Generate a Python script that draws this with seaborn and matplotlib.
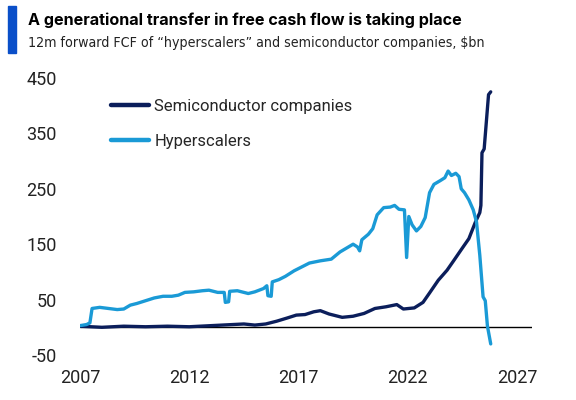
import pandas as pd
import matplotlib.pyplot as plt
import seaborn as sns
from matplotlib.patches import Rectangle

# Data (decimal year, $bn)
hyper_years = [2007.0, 2007.3, 2007.45, 2007.55, 2007.9, 2008.3, 2008.7, 2009.0, 2009.3, 2009.6,
               2010.0, 2010.4, 2010.8, 2011.2, 2011.5, 2011.8, 2012.2, 2012.6, 2012.9, 2013.3,
               2013.6, 2013.65, 2013.8, 2013.85, 2014.2, 2014.7, 2015.0, 2015.4, 2015.55, 2015.6,
               2015.75, 2015.8, 2016.1, 2016.4, 2016.8, 2017.1, 2017.5, 2018.0, 2018.5, 2018.9,
               2019.2, 2019.5, 2019.7, 2019.8, 2019.9, 2020.2, 2020.4, 2020.6, 2020.9, 2021.2,
               2021.4, 2021.6, 2021.85, 2021.95, 2022.05, 2022.2, 2022.4, 2022.6, 2022.8, 2023.0,
               2023.2, 2023.5, 2023.7, 2023.85, 2024.0, 2024.2, 2024.35, 2024.45, 2024.6, 2024.8,
               2025.0, 2025.15, 2025.3, 2025.45, 2025.55, 2025.65, 2025.8]
hyper_fcf = [3, 5, 8, 34, 36, 34, 32, 33, 40, 43,
             48, 53, 56, 56, 58, 63, 64, 66, 67, 63,
             63, 45, 46, 65, 66, 61, 64, 70, 75, 57,
             56, 82, 86, 92, 102, 108, 116, 120, 123, 136,
             143, 150, 145, 138, 158, 168, 178, 203, 216, 217,
             220, 213, 212, 126, 200, 185, 174, 182, 198, 243,
             258, 265, 270, 282, 274, 278, 272, 250, 243, 230,
             212, 190, 130, 55, 48, 2, -30]

semi_years = [2007.0, 2008.0, 2009.0, 2010.0, 2011.0, 2012.0, 2013.0, 2014.0, 2014.5, 2015.0,
              2015.5, 2016.0, 2016.5, 2016.9, 2017.3, 2017.7, 2018.0, 2018.4, 2019.0, 2019.5,
              2020.0, 2020.5, 2021.0, 2021.5, 2021.8, 2022.3, 2022.7, 2023.0, 2023.4, 2023.8,
              2024.1, 2024.5, 2024.8, 2025.1, 2025.3, 2025.35, 2025.4, 2025.5, 2025.7, 2025.8]
semi_fcf = [2, 0, 2, 1, 2, 1, 3, 5, 6, 4,
            6, 11, 17, 22, 23, 28, 30, 24, 18, 20,
            25, 34, 37, 41, 33, 35, 45, 62, 85, 103,
            120, 143, 160, 190, 207, 220, 315, 322, 420, 425]

x_ticks = [2007, 2012, 2017, 2022, 2027]
y_ticks = [-50, 50, 150, 250, 350, 450]

NAVY = "#0b1e5b"
LIGHT = "#1a9ad6"
BAR = "#0a4fc9"

sns.set_theme(style="white")
plt.rcParams["font.family"] = ["Roboto", "DejaVu Sans"]
plt.rcParams["axes.unicode_minus"] = False

df = pd.concat([
    pd.DataFrame({"year": semi_years, "fcf": semi_fcf, "series": "Semiconductor companies"}),
    pd.DataFrame({"year": hyper_years, "fcf": hyper_fcf, "series": "Hyperscalers"}),
])

fig = plt.figure(figsize=(5.76, 4.0), dpi=100)
ax = fig.add_axes([0.139, 0.1125, 0.785, 0.6925])

ax.axhline(0, color="black", lw=1.0, zorder=1)
sns.lineplot(data=df, x="year", y="fcf", hue="series", sort=False, estimator=None,
             palette={"Semiconductor companies": NAVY, "Hyperscalers": LIGHT},
             lw=2.4, ax=ax, zorder=3)

ax.set_xlim(2007, 2027.7)
ax.set_ylim(-50, 450)
ax.set_xticks(x_ticks)
ax.set_yticks(y_ticks)
ax.tick_params(axis="both", length=0, labelsize=13, colors="#222222")
ax.tick_params(axis="x", pad=10)
ax.tick_params(axis="y", pad=17)
ax.set_xlabel("")
ax.set_ylabel("")
sns.despine(ax=ax, left=True, bottom=True)

leg = ax.legend(loc="upper left", bbox_to_anchor=(0.035, 0.98), frameon=False,
                fontsize=12, handlelength=2.3, handletextpad=0.3, labelspacing=1.2)
for line in leg.get_lines():
    line.set_linewidth(3.2)

# title block
fig.patches.append(Rectangle((8 / 576, 1 - 53 / 400), 8 / 576, 47 / 400,
                             transform=fig.transFigure, color=BAR, zorder=5))
fig.text(28 / 576, 1 - 20 / 400, "A generational transfer in free cash flow is taking place",
         fontsize=11.6, fontweight="bold", family=["Inter", "DejaVu Sans"], va="center", color="black")
fig.text(28 / 576, 1 - 43 / 400, "12m forward FCF of \u201chyperscalers\u201d and semiconductor companies, $bn",
         fontsize=10.2, family="DejaVu Sans", fontstretch="condensed", fontweight="light",
         va="center", color="#222222")

fig.savefig("out.png", dpi=100)
